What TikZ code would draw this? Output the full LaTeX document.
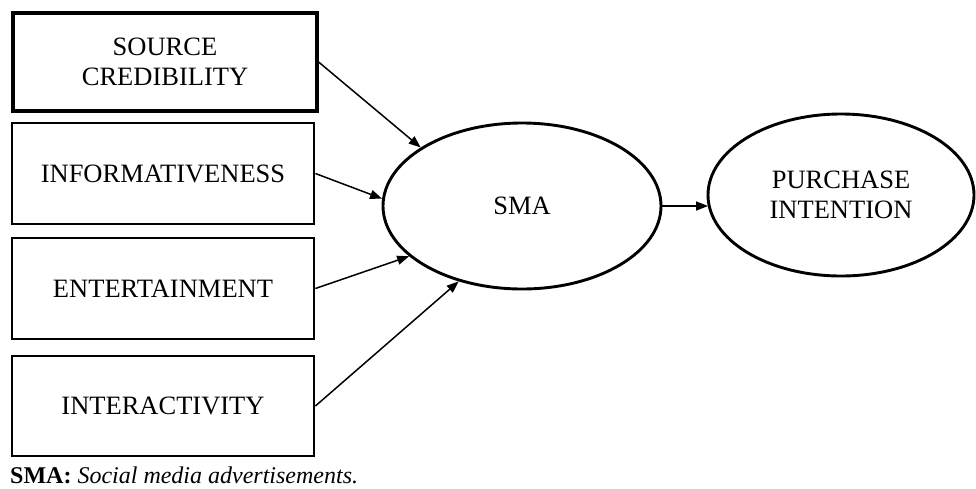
\documentclass[tikz,border=0pt]{standalone}
\usepackage{fontspec}
\setmainfont{Liberation Serif}
\usetikzlibrary{shapes.geometric,arrows.meta}
\tikzset{
  factor/.style={draw,line width=2.8pt,rectangle,inner sep=0pt,align=center,
    font=\fontsize{26.5}{30}\selectfont},
  latent/.style={draw,line width=2.9pt,ellipse,inner sep=0pt,align=center,
    font=\fontsize{26.5}{30}\selectfont},
  path/.style={line width=1.5pt,-{Triangle[length=12pt,width=9pt]}}
}
\begin{document}
\begin{tikzpicture}[x=1pt,y=-1pt]
\useasboundingbox (0,0) rectangle (976,488);
\node[factor,minimum width=304pt,minimum height=98pt,line width=3.2pt] (sc) at (165,62) {SOURCE\\CREDIBILITY};
\node[factor,minimum width=302pt,minimum height=101pt] (inf) at (163,173.5) {INFORMATIVENESS};
\node[factor,minimum width=302pt,minimum height=101pt] (ent) at (163,288.5) {ENTERTAINMENT};
\node[factor,minimum width=302pt,minimum height=100pt] (int) at (163,406) {INTERACTIVITY};
\node[latent,minimum width=278pt,minimum height=166pt] (sma) at (522,206) {SMA};
\node[latent,minimum width=266pt,minimum height=162pt] (pi) at (841,195) {PURCHASE\\INTENTION};
\draw[path] (sc.east) -- (sma.150);
\draw[path] (inf.east) -- (sma.177);
\draw[path] (ent.east) -- (sma.204);
\draw[path] (int.east) -- (sma.230);
\coordinate (piin) at (pi.west |- sma.east);
\draw[path] (sma.east) -- ([xshift=1.5pt]piin);
\node[anchor=base west,inner sep=0pt,font=\fontsize{24}{28}\selectfont] (cap) at (10,483) {\textbf{SMA:} \textit{Social media advertisements.}};
\end{tikzpicture}
\end{document}
